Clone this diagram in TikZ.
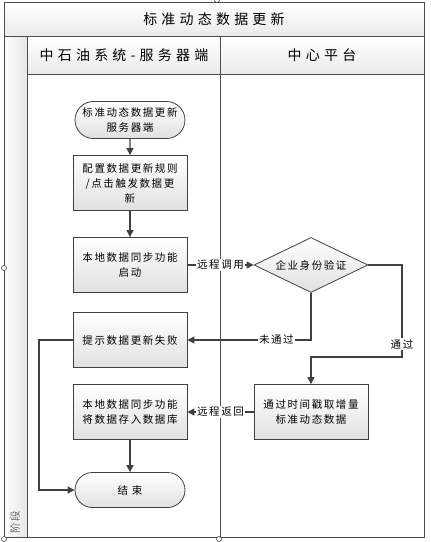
\documentclass[tikz,border=0pt]{standalone}
\usepackage{fontspec}
\setmainfont{Noto Sans CJK SC}
\newfontfamily\nodefont[LetterSpace=15]{Noto Sans CJK SC}
\newfontfamily\headfont[LetterSpace=30]{Noto Sans CJK SC}
\usetikzlibrary{arrows.meta,positioning}
\usetikzlibrary{shapes}
\usetikzlibrary{calc}

\tikzset{
  proc/.style={draw=black!75,line width=0.8pt,minimum width=114pt,minimum height=55pt,
    inner sep=2pt,top color=white,bottom color=black!12,align=center,
    font=\nodefont\fontsize{10.5pt}{15pt}\selectfont},
  term/.style={proc,rounded rectangle,minimum height=37pt},
  decide/.style={proc,diamond,aspect=2.05,inner sep=0pt,minimum height=55pt},
  conn/.style={draw=black!75,line width=1.1pt,-{Triangle[length=7pt,width=7pt]}},
  lbl/.style={fill=white,inner sep=1pt,font=\nodefont\fontsize{10.5pt}{12pt}\selectfont},
  frame/.style={draw=black!70,line width=1pt},
  handle/.style={draw=black!80,fill=white,line width=0.5pt}
}

\begin{document}
\begin{tikzpicture}[x=1pt,y=-1pt]
\useasboundingbox (0,0) rectangle (431,542);

% lanes
\shade[top color=white,bottom color=black!8] (4,2) rectangle (424,36);
\shade[top color=white,bottom color=black!8] (27,36) rectangle (424,74);
\shade[left color=white,right color=black!10] (4,36) rectangle (27,537);
\draw[frame] (4,2) rectangle (424,537);
\draw[frame] (4,36) -- (424,36);
\draw[frame] (27,74) -- (424,74);
\draw[frame] (27,36) -- (27,537);
\draw[frame] (220,36) -- (220,537);

\node (title) at (214,19) {\headfont\fontsize{14pt}{16pt}\selectfont 标准动态数据更新};
\node (laneA) at (124,55) {\headfont\fontsize{14pt}{16pt}\selectfont 中石油系统-服务器端};
\node (laneB) at (322,55) {\headfont\fontsize{14pt}{16pt}\selectfont 中心平台};
\node[rotate=90,font=\nodefont\fontsize{10.5pt}{12pt}\selectfont,text=black!60] (stage) at (15,522) {阶段};

% steps
\node[term] (start) at (130,120) {标准动态数据更新\\服务器端};
\node[proc] (cfg) at (130,183) {配置数据更新规则\\/点击触发数据更\\新};
\node[proc] (sync) at (130,265) {本地数据同步功能\\启动};
\node[decide] (auth) at (311,265) {企业身份验证};
\node[proc] (fail) at (130,340) {提示数据更新失败};
\node[proc] (data) at (311,412) {通过时间戳取增量\\标准动态数据};
\node[proc] (store) at (130,412) {本地数据同步功能\\将数据存入数据库};
\node[term,minimum height=35pt] (end) at (130,490) {结 束};

\coordinate (turn) at (402,357);
\coordinate (back) at (39,340);

\draw[conn] (start) -- (cfg);
\draw[conn] (cfg) -- (sync);
\draw[conn] (sync) -- node[lbl]{远程调用} (auth);
\draw[conn] (auth.south) |- node[lbl,pos=0.64]{未通过} (fail.east);
\draw[conn] (auth.east) -| node[lbl,pos=0.93]{通过} (turn) -| (data.north);
\draw[conn] (data) -- node[lbl]{远程返回} (store);
\draw[conn] (store) -- (end);
\draw[conn] (fail.west) -- (back) |- (end.west);

% selection handles
\draw[handle] (4,268) circle (2.5);
\draw[handle] (4,539) circle (2.5);
\draw[handle] (219,539) circle (2.5);
\draw[handle] (217,0) circle (2.5);
\end{tikzpicture}
\end{document}
